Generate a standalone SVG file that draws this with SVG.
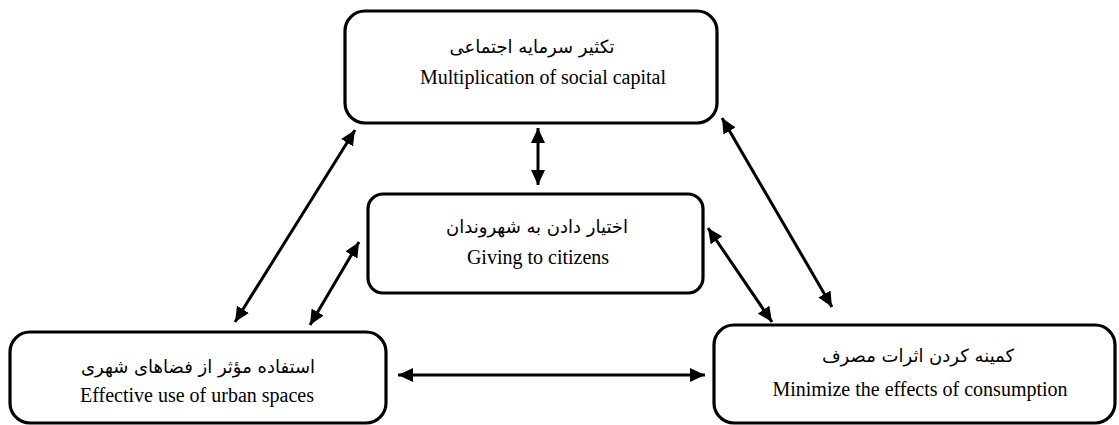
<svg xmlns="http://www.w3.org/2000/svg" width="1119" height="425" viewBox="0 0 1119 425">
<style>
.box{fill:#fff;stroke:#000;stroke-width:3.2}
.fa{font-family:"DejaVu Sans","Noto Sans",sans-serif;font-size:18px;fill:#000;text-anchor:middle}
.en{font-family:"Liberation Serif","Times New Roman",serif;font-size:20px;fill:#000;text-anchor:middle}
.conn line{stroke:#000;stroke-width:3;marker-start:url(#ah);marker-end:url(#ah)}
</style>
<defs>
<marker id="ah" markerUnits="userSpaceOnUse" markerWidth="16" markerHeight="14" refX="15" refY="7" orient="auto-start-reverse" viewBox="0 0 16 14">
<path d="M0,0 L15,7 L0,14 Z" fill="#000"/>
</marker>
</defs>
<rect width="1119" height="425" fill="#fff"/>
<g id="node-social-capital">
<rect class="box" x="345" y="11" width="372" height="112" rx="20"/>
<text class="fa" x="532" y="53" direction="rtl">تکثیر سرمایه اجتماعی</text>
<text class="en" x="543" y="84">Multiplication of social capital</text>
</g>
<g id="node-citizens">
<rect class="box" x="368" y="194" width="335" height="99" rx="15"/>
<text class="fa" x="537" y="233" direction="rtl">اختیار دادن به شهروندان</text>
<text class="en" x="538" y="264">Giving to citizens</text>
</g>
<g id="node-urban-spaces">
<rect class="box" x="10" y="332" width="376" height="91" rx="20"/>
<text class="fa" x="198" y="373" direction="rtl">استفاده مؤثر از فضاهای شهری</text>
<text class="en" x="197" y="402">Effective use of urban spaces</text>
</g>
<g id="node-consumption">
<rect class="box" x="714" y="325" width="401" height="98" rx="20"/>
<text class="fa" x="918" y="362" direction="rtl">کمینه کردن اثرات مصرف</text>
<text class="en" x="920" y="396">Minimize the effects of consumption</text>
</g>
<g id="connectors" class="conn">
<line x1="538" y1="128" x2="538" y2="185"/>
<line x1="355" y1="130" x2="235" y2="322"/>
<line x1="359" y1="242" x2="310" y2="325"/>
<line x1="722" y1="118" x2="832" y2="307"/>
<line x1="708" y1="228" x2="772" y2="322"/>
<line x1="398" y1="375" x2="705" y2="375"/>
</g>
</svg>
